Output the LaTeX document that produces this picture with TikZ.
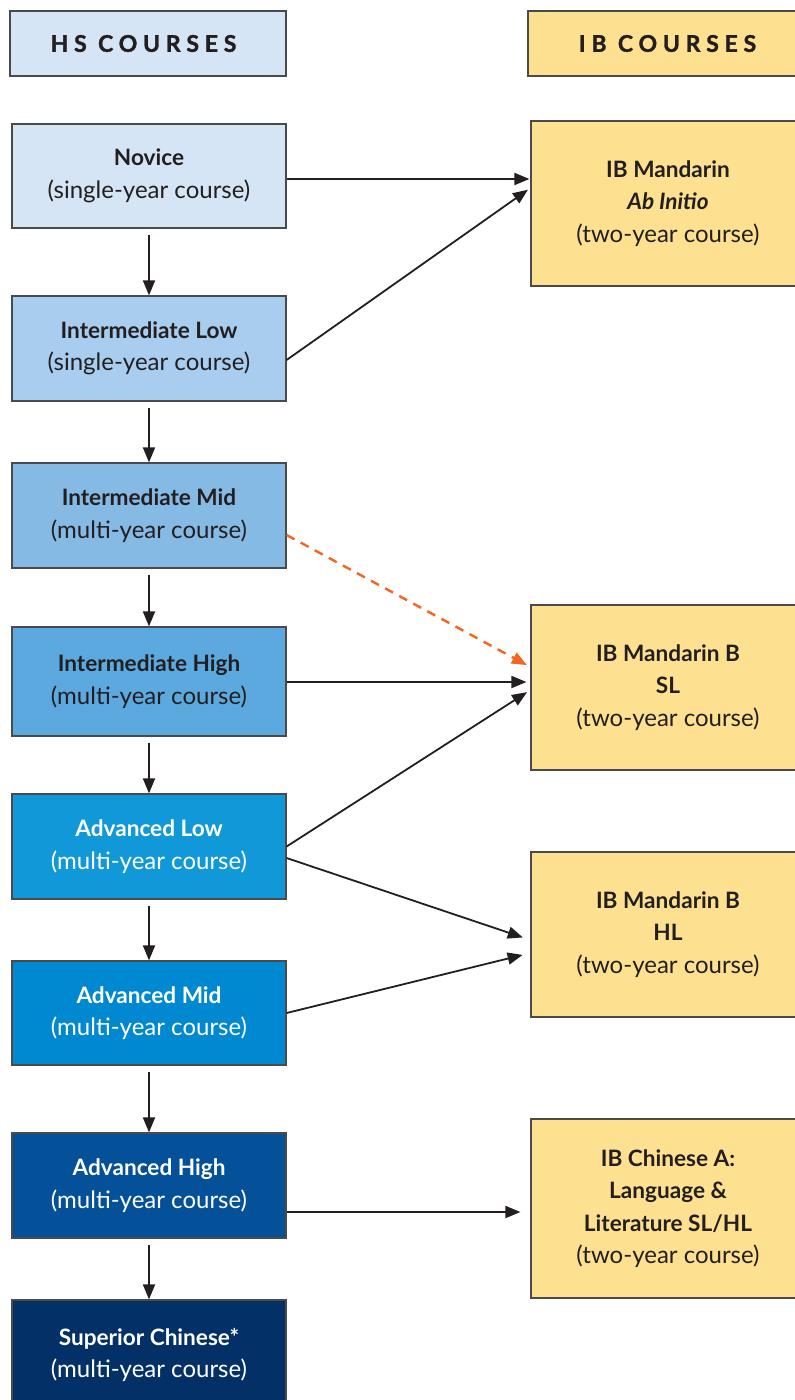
\documentclass[tikz,border=0pt]{standalone}
\usepackage{fontspec}
\setmainfont{Lato}
\usetikzlibrary{arrows.meta}
\definecolor{txt}{HTML}{231F20}
\definecolor{bord}{HTML}{4A4A4A}
\definecolor{cA}{HTML}{D5E5F5}
\definecolor{cB}{HTML}{A9CDEE}
\definecolor{cC}{HTML}{85BAE5}
\definecolor{cD}{HTML}{5BA9DE}
\definecolor{cE}{HTML}{1198D8}
\definecolor{cF}{HTML}{0088D0}
\definecolor{cG}{HTML}{04519A}
\definecolor{cH}{HTML}{033067}
\definecolor{ib}{HTML}{FDE090}
\definecolor{orng}{HTML}{F26522}
\newcommand{\ttl}[1]{{\fontsize{22.6}{32}\selectfont\bfseries #1}}
\tikzset{
  box/.style={draw=bord, line width=1.2pt, minimum width=274pt, align=center, inner sep=0pt,
    font=\fontsize{24}{32.5}\selectfont, text=txt},
  hdr/.style={box, minimum height=65pt, font=\fontsize{23}{26}\selectfont\bfseries\addfontfeature{LetterSpace=25,FakeBold=1.5}},
  lbox/.style={box, minimum height=105pt},
  rbox/.style={box, fill=ib, minimum height=165pt},
  wt/.style={text=white},
  arr/.style={-{Triangle[length=15pt,width=12pt]}, line width=1.8pt, draw=txt},
  darr/.style={arr, shorten <=6pt},
}
\begin{document}
\begin{tikzpicture}[x=1pt,y=-1pt]
\useasboundingbox (0,0) rectangle (795,1400);
\fill[white] (0,0) rectangle (795,1400);
% headers
\node[hdr, fill=cA, minimum width=276pt] (hs) at (148,43.5) {\hspace*{-9pt}HS COURSES};
\node[hdr, fill=ib, minimum width=277pt] (ibh) at (666.5,43.5) {\hspace*{2pt}IB COURSES};
% left column
\node[lbox, fill=cA, minimum height=104pt] (nov) at (149,176) {\ttl{Novice}\\(single-year course)};
\node[lbox, fill=cB] (il) at (149,348.5) {\ttl{Intermediate Low}\\(single-year course)};
\node[lbox, fill=cC] (im) at (149,515.5) {\ttl{Intermediate Mid}\\(multi-year course)};
\node[lbox, fill=cD, minimum height=109pt] (ih) at (149,681.5) {\ttl{Intermediate High}\\(multi-year course)};
\node[lbox, fill=cE, wt] (al) at (149,846.5) {\ttl{Advanced Low}\\(multi-year course)};
\node[lbox, fill=cF, wt, minimum height=104pt] (am) at (149,1013) {\ttl{Advanced Mid}\\(multi-year course)};
\node[lbox, fill=cG, wt] (ah) at (149,1185.5) {\ttl{Advanced High}\\(multi-year course)};
\node[lbox, fill=cH, wt, minimum height=110pt] (sup) at (149,1355) {\ttl{Superior Chinese*}\\(multi-year course)};
% right column
\node[rbox] (abi) at (668,203.5) {\ttl{IB Mandarin}\\\ttl{\itshape Ab Initio}\\(two-year course)};
\node[rbox] (sl) at (668,687.5) {\ttl{IB Mandarin B}\\\ttl{SL}\\(two-year course)};
\node[rbox] (hl) at (668,934.5) {\ttl{IB Mandarin B}\\\ttl{HL}\\(two-year course)};
\node[rbox, minimum height=179pt] (cha) at (668,1208.5) {\ttl{IB Chinese A:}\\\ttl{Language \&}\\\ttl{Literature SL/HL}\\(two-year course)};
% vertical arrows
\draw[darr] (nov.south) -- (il.north);
\draw[darr] (il.south) -- (im.north);
\draw[darr] (im.south) -- (ih.north);
\draw[darr] (ih.south) -- (al.north);
\draw[darr] (al.south) -- (am.north);
\draw[darr] (am.south) -- (ah.north);
\draw[darr] (ah.south) -- (sup.north);
% horizontal / diagonal arrows
\draw[arr, shorten >=1pt] ([yshift=-3pt]nov.east) -- ([yshift=24.5pt]abi.west);
\draw[arr, shorten >=3pt] ([yshift=-11.5pt]il.east) -- ([yshift=15.5pt]abi.west);
\draw[arr, draw=orng, dash pattern=on 9pt off 7pt, line width=2.4pt, shorten >=4pt] ([yshift=-19.5pt]im.east) -- ([yshift=20.5pt]sl.west);
\draw[arr, shorten >=4pt] ([yshift=-0.5pt]ih.east) -- ([yshift=5.5pt]sl.west);
\draw[arr, shorten >=4pt] (al.east) -- ([yshift=-2.5pt]sl.west);
\draw[arr, shorten >=8pt] ([yshift=-11.5pt]al.east) -- ([yshift=-5.5pt]hl.west);
\draw[arr, shorten >=8pt] (am.east) -- ([yshift=-18.5pt]hl.west);
\draw[arr, shorten >=10pt] ([yshift=-26.5pt]ah.east) -- ([yshift=-3.5pt]cha.west);
\end{tikzpicture}
\end{document}
